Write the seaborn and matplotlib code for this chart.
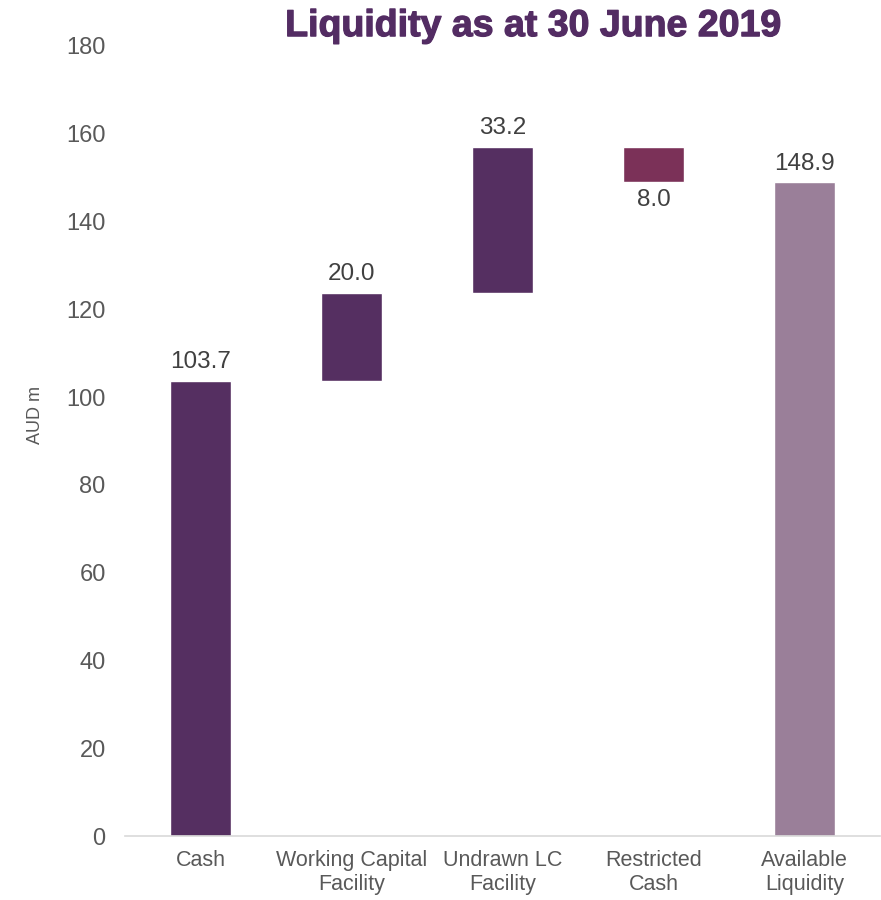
import pandas as pd
import numpy as np
import matplotlib.pyplot as plt
import matplotlib.patheffects as pe
import seaborn as sns

# Data
categories = ["Cash", "Working Capital\nFacility", "Undrawn LC\nFacility", "Restricted\nCash", "Available\nLiquidity"]
changes = [103.7, 20.0, 33.2, -8.0, 148.9]
is_total = [True, False, False, False, True]
bar_colors = ["#552F61", "#552F61", "#552F61", "#7B3158", "#9A7F99"]
label_texts = ["103.7", "20.0", "33.2", "8.0", "148.9"]

# waterfall bases
bases = []
running = 0.0
for c, t in zip(changes, is_total):
    if t:
        bases.append(0.0)
        running = c
    else:
        if c >= 0:
            bases.append(running)
        else:
            bases.append(running + c)
        running = running + c
heights = [abs(c) for c in changes]

df = pd.DataFrame({"Category": categories, "Height": heights, "Base": bases})

sns.set_style("white")
plt.rcParams["font.family"] = ["Liberation Sans", "DejaVu Sans"]

fig = plt.figure(figsize=(8.81, 9), dpi=100)
ax = fig.add_axes([0.142, 0.071, 0.857, 0.878])

# one floating bar per category
for i, row in df.iterrows():
    sns.barplot(data=df.iloc[[i]], x="Category", y="Height", order=categories,
                color=bar_colors[i], bottom=row["Base"], width=0.4,
                saturation=1, ax=ax)

for i, (b, h, c) in enumerate(zip(bases, heights, changes)):
    if c >= 0:
        ax.text(i, b + h + 1.8, label_texts[i], ha="center", va="bottom", fontsize=17.5, color="#404040")
    else:
        ax.text(i, b - 1.5, label_texts[i], ha="center", va="top", fontsize=17.5, color="#404040")

ax.set_xlim(-0.5, 4.5)
ax.set_ylim(0, 180)
ax.set_yticks(np.arange(0, 181, 20))
ax.tick_params(axis="y", labelsize=17, labelcolor="#595959", length=0, pad=14)
ax.tick_params(axis="x", labelsize=15.5, labelcolor="#595959", length=0, pad=10)
ax.set_xlabel("")
ax.set_ylabel("AUD m", fontsize=13, color="#595959")
ax.yaxis.set_label_coords(-0.108, 0.533)
sns.despine(ax=ax, left=True)
ax.spines["bottom"].set_color("#D9D9D9")
ax.spines["bottom"].set_linewidth(1.2)

title = fig.text(0.605, 0.971, "Liquidity as at 30 June 2019", ha="center", va="center",
                 fontsize=27, fontweight="bold", color="#532C63")
title.set_path_effects([pe.withStroke(linewidth=0.9, foreground="#532C63")])

plt.savefig("out.png", dpi=100)
